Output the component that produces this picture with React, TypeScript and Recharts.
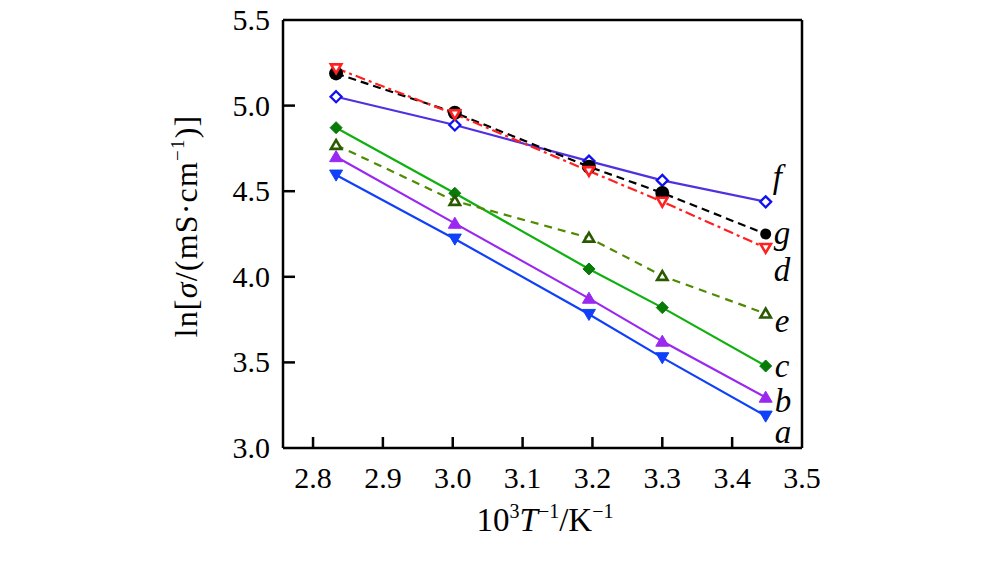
import React from 'react';
import { LineChart, Line, XAxis, YAxis, ReferenceLine, LabelList } from 'recharts';

const invT = [2.833, 3.003, 3.195, 3.3, 3.448];
const seriesA = [4.595, 4.221, 3.781, 3.528, 3.187];
const seriesB = [4.701, 4.312, 3.874, 3.623, 3.296];
const seriesC = [4.871, 4.488, 4.046, 3.82, 3.479];
const seriesE = [4.77, 4.443, 4.228, 4.005, 3.785];
const seriesF = [5.052, 4.887, 4.676, 4.563, 4.438];
const seriesG = [5.188, 4.958, 4.643, 4.49, 4.25];
const seriesD = [5.218, 4.95, 4.618, 4.439, 4.169];
const xTicks = [2.8, 2.9, 3.0, 3.1, 3.2, 3.3, 3.4, 3.5];
const yTicks = [3.0, 3.5, 4.0, 4.5, 5.0, 5.5];

const data = invT.map((x, i) => ({
  x,
  a: seriesA[i],
  b: seriesB[i],
  c: seriesC[i],
  e: seriesE[i],
  f: seriesF[i],
  g: seriesG[i],
  d: seriesD[i],
}));

const FONT = '"Liberation Serif", "Times New Roman", Times, serif';

const triDown = (fill: string, stroke: string, sw: number, s: number) => (p: any) => {
  const { cx, cy, index } = p;
  if (cx == null || cy == null) return <g key={index} />;
  const pts = `${cx - s},${cy - s * 0.75} ${cx + s},${cy - s * 0.75} ${cx},${cy + s * 0.95}`;
  return <polygon key={index} points={pts} fill={fill} stroke={stroke} strokeWidth={sw} strokeLinejoin="miter" />;
};
const triUp = (fill: string, stroke: string, sw: number, s: number) => (p: any) => {
  const { cx, cy, index } = p;
  if (cx == null || cy == null) return <g key={index} />;
  const pts = `${cx - s},${cy + s * 0.75} ${cx + s},${cy + s * 0.75} ${cx},${cy - s * 0.95}`;
  return <polygon key={index} points={pts} fill={fill} stroke={stroke} strokeWidth={sw} strokeLinejoin="miter" />;
};
const diamond = (fill: string, stroke: string, sw: number, s: number) => (p: any) => {
  const { cx, cy, index } = p;
  if (cx == null || cy == null) return <g key={index} />;
  const pts = `${cx},${cy - s} ${cx + s},${cy} ${cx},${cy + s} ${cx - s},${cy}`;
  return <polygon key={index} points={pts} fill={fill} stroke={stroke} strokeWidth={sw} />;
};
const circle = (fill: string, r: number, rLast: number) => (p: any) => {
  const { cx, cy, index } = p;
  if (cx == null || cy == null) return <g key={index} />;
  return <circle key={index} cx={cx} cy={cy} r={index === invT.length - 1 ? rLast : r} fill={fill} />;
};

const endLabel = (text: string, dx: number, dy: number) => (p: any) => {
  const { x, y, index } = p;
  if (index !== invT.length - 1) return null;
  return (
    <text x={x + dx} y={y + dy} fontFamily={FONT} fontStyle="italic" fontSize={33} fill="#000">
      {text}
    </text>
  );
};

const XTick = (p: any) => {
  const { x, y, payload } = p;
  return (
    <g>
      {payload.value > 2.79 && payload.value < 3.49 ? (
        <line x1={x} y1={y} x2={x} y2={y - 11} stroke="#000" strokeWidth={2.5} />
      ) : null}
      <text x={x} y={y + 40} textAnchor="middle" fontFamily={FONT} fontSize={30} fill="#000">
        {Number(payload.value).toFixed(1)}
      </text>
    </g>
  );
};

const YTick = (p: any) => {
  const { x, y, payload } = p;
  return (
    <g>
      {payload.value > 3.01 && payload.value < 5.49 ? (
        <line x1={x} y1={y} x2={x + 12} y2={y} stroke="#000" strokeWidth={2.5} />
      ) : null}
      <text x={x - 13} y={y + 10} textAnchor="end" fontFamily={FONT} fontSize={30} fill="#000">
        {Number(payload.value).toFixed(1)}
      </text>
    </g>
  );
};

export default function App() {
  return (
    <div style={{ position: 'absolute', left: 0, top: 0, width: 1000, height: 564, background: '#fff' }}>
      <LineChart width={1000} height={564} data={data} margin={{ top: 20, right: 198, left: 0, bottom: 0 }}>
        <XAxis
          dataKey="x"
          type="number"
          domain={[2.757, 3.5]}
          ticks={xTicks}
          height={116}
          tickLine={false}
          tickSize={0}
          tickMargin={0}
          axisLine={{ stroke: '#000', strokeWidth: 2.5 }}
          tick={<XTick />}
          interval={0}
        />
        <YAxis
          type="number"
          domain={[3.0, 5.5]}
          ticks={yTicks}
          width={283}
          tickLine={false}
          tickSize={0}
          tickMargin={0}
          axisLine={{ stroke: '#000', strokeWidth: 2.5 }}
          tick={<YTick />}
          interval={0}
        />
        <ReferenceLine y={5.5} stroke="#000" strokeWidth={2.5} />
        <ReferenceLine x={3.5} stroke="#000" strokeWidth={2.5} />

        <Line dataKey="a" type="linear" stroke="#1040f8" strokeWidth={2.2} isAnimationActive={false}
          dot={triDown('#1040f8', '#1040f8', 1, 6.5)}>
          <LabelList dataKey="a" content={endLabel('a', 9, 27)} />
        </Line>
        <Line dataKey="b" type="linear" stroke="#9a28f0" strokeWidth={2.2} isAnimationActive={false}
          dot={triUp('#9a28f0', '#9a28f0', 1, 6.5)}>
          <LabelList dataKey="b" content={endLabel('b', 9, 15)} />
        </Line>
        <Line dataKey="c" type="linear" stroke="#10b010" strokeWidth={2.2} isAnimationActive={false}
          dot={diamond('#087a08', '#087a08', 1, 6)}>
          <LabelList dataKey="c" content={endLabel('c', 9, 11)} />
        </Line>
        <Line dataKey="e" type="linear" stroke="#4f8a00" strokeWidth={2.2} strokeDasharray="8 6" isAnimationActive={false}
          dot={triUp('#ffffff', '#2a5a00', 2.6, 5.2)}>
          <LabelList dataKey="e" content={endLabel('e', 9, 18)} />
        </Line>
        <Line dataKey="f" type="linear" stroke="#5030e0" strokeWidth={2.2} isAnimationActive={false}
          dot={diamond('#ffffff', '#1010f0', 2.3, 5.5)}>
          <LabelList dataKey="f" content={endLabel('f', 7, -14)} />
        </Line>
        <Line dataKey="g" type="linear" stroke="#000000" strokeWidth={2.2} strokeDasharray="8 5" isAnimationActive={false}
          dot={circle('#000000', 7, 5.5)}>
          <LabelList dataKey="g" content={endLabel('g', 8, 10)} />
        </Line>
        <Line dataKey="d" type="linear" stroke="#ff2020" strokeWidth={2.2} strokeDasharray="10 4 3 4" isAnimationActive={false}
          dot={triDown('#ffffff', '#ff2020', 2.6, 5.2)}>
          <LabelList dataKey="d" content={endLabel('d', 8, 33)} />
        </Line>

        <text transform="rotate(-90 186 226)" x={186} y={237} textAnchor="middle" fontFamily={FONT} fontSize={32} letterSpacing={1.2} fill="#000">
          ln[<tspan fontStyle="italic">σ</tspan>/(mS·cm<tspan fontSize={19} dy={-13}>−1</tspan><tspan dy={13}>)]</tspan>
        </text>
        <text x={545} y={531} textAnchor="middle" fontFamily={FONT} fontSize={33} fill="#000">
          10<tspan fontSize={20} dy={-13}>3</tspan><tspan dy={13} fontStyle="italic">T</tspan><tspan fontSize={20} dy={-13}>−1</tspan><tspan dy={13}>/K</tspan><tspan fontSize={20} dy={-13}>−1</tspan>
        </text>
      </LineChart>
    </div>
  );
}
